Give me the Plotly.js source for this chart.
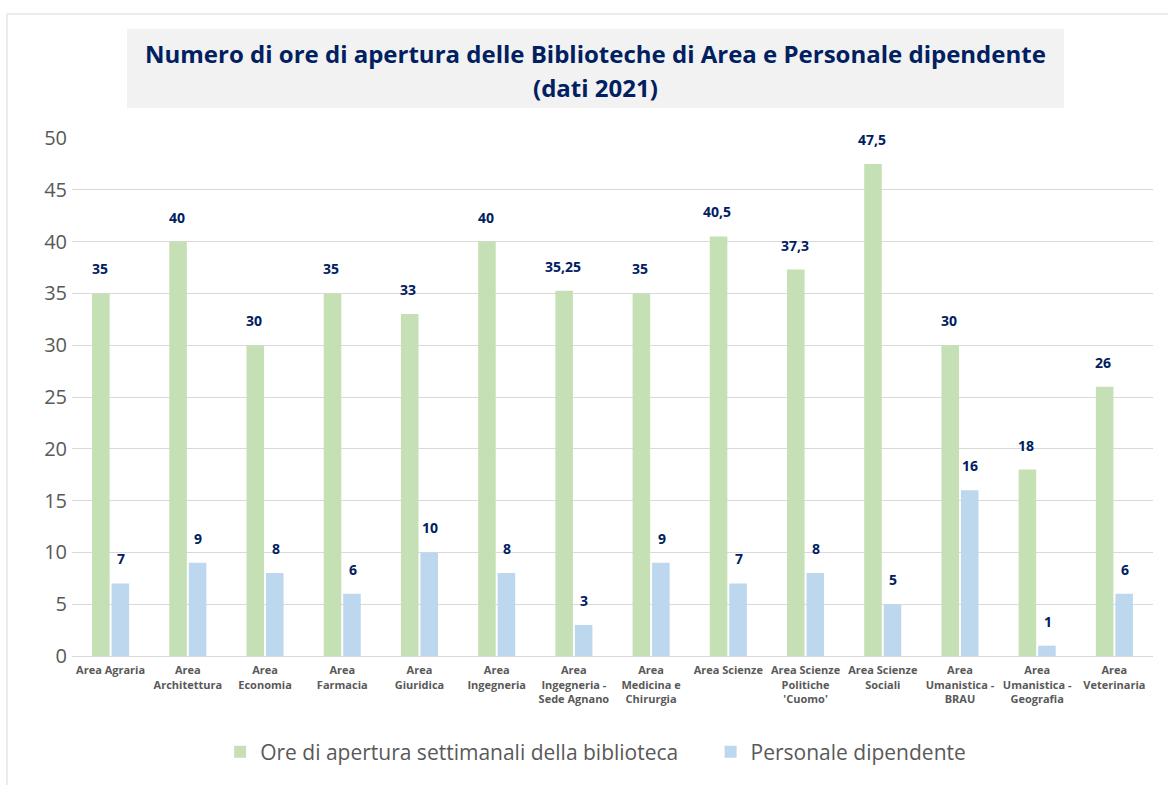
<!DOCTYPE html>
<html>
<head>
<meta charset="utf-8">
<script src="https://cdn.plot.ly/plotly-3.0.1.min.js"></script>
<style>html,body{margin:0;padding:0;background:#fff;}#chart{width:1168px;height:785px;}</style>
</head>
<body>
<div id="chart"></div>
<script>
const categories = ["Area Agraria","Area Architettura","Area Economia","Area Farmacia","Area Giuridica","Area Ingegneria","Area Ingegneria - Sede Agnano","Area Medicina e Chirurgia","Area Scienze","Area Scienze Politiche 'Cuomo'","Area Scienze Sociali","Area Umanistica - BRAU","Area Umanistica - Geografia","Area Veterinaria"];
const tickLabels = ["Area Agraria","Area<br>Architettura","Area<br>Economia","Area<br>Farmacia","Area<br>Giuridica","Area<br>Ingegneria","Area<br>Ingegneria -<br>Sede Agnano","Area<br>Medicina e<br>Chirurgia","Area Scienze","Area Scienze<br>Politiche<br>'Cuomo'","Area Scienze<br>Sociali","Area<br>Umanistica -<br>BRAU","Area<br>Umanistica -<br>Geografia","Area<br>Veterinaria"];
const oreApertura = [35, 40, 30, 35, 33, 40, 35.25, 35, 40.5, 37.3, 47.5, 30, 18, 26];
const personale = [7, 9, 8, 6, 10, 8, 3, 9, 7, 8, 5, 16, 1, 6];
const seriesNames = ["Ore di apertura settimanali della biblioteca", "Personale dipendente"];
const titleLines = ["Numero di ore di apertura delle Biblioteche di Area e Personale dipendente", "(dati 2021)"];
const yTicks = [0, 5, 10, 15, 20, 25, 30, 35, 40, 45, 50];

const FONT = "'Open Sans', 'Noto Sans', sans-serif";
const NAVY = "#002060";
const GRAY = "#595959";
const fmt = v => String(v).replace('.', ',');

const traces = [
  {type: 'bar', name: seriesNames[0], x: categories, y: oreApertura, marker: {color: '#C5E0B4'}, hoverinfo: 'y', legend: 'legend'},
  {type: 'bar', name: seriesNames[1], x: categories, y: personale, marker: {color: '#BDD7EE'}, hoverinfo: 'y', legend: 'legend2'}
];

const annotations = [];
oreApertura.forEach((v, i) => annotations.push({x: categories[i], y: v, xref: 'x', yref: 'y', text: fmt(v), showarrow: false, xshift: -11, yshift: 13, yanchor: 'bottom', font: {family: FONT, size: 14, color: NAVY, weight: 'bold'}}));
personale.forEach((v, i) => annotations.push({x: categories[i], y: v, xref: 'x', yref: 'y', text: fmt(v), showarrow: false, xshift: 10.5, yshift: 13, yanchor: 'bottom', font: {family: FONT, size: 14, color: NAVY, weight: 'bold'}}));
annotations.push({xref: 'paper', yref: 'paper', x: (595 - 72) / 1080, y: (656 - 53) / 518, yanchor: 'middle', xanchor: 'center', showarrow: false, text: '<b>' + titleLines[0] + '</b>', font: {family: FONT, size: 24, color: NAVY}});
annotations.push({xref: 'paper', yref: 'paper', x: (595 - 72) / 1080, y: (656 - 88) / 518, yanchor: 'middle', xanchor: 'center', showarrow: false, text: '<b>' + titleLines[1] + '</b>', font: {family: FONT, size: 24, color: NAVY}});

const legendBase = {orientation: 'h', xanchor: 'left', y: (656 - 752) / 518, yanchor: 'middle', font: {family: FONT, size: 21, color: GRAY}, itemwidth: 30, bgcolor: 'rgba(0,0,0,0)'};

const layout = {
  width: 1168, height: 785,
  margin: {l: 72, r: 15, t: 138, b: 129, pad: 0},
  paper_bgcolor: '#fff', plot_bgcolor: '#fff',
  barmode: 'group', bargap: 0.495, bargroupgap: 0.1,
  font: {family: FONT, color: GRAY},
  showlegend: true,
  legend: Object.assign({}, legendBase, {x: (220 - 72) / 1080}),
  legend2: Object.assign({}, legendBase, {x: (710 - 72) / 1080}),
  xaxis: {type: 'category', tickmode: 'array', tickvals: categories, ticktext: tickLabels, tickfont: {family: FONT, size: 11, color: GRAY, weight: 'bold'}, showgrid: false, showline: true, linecolor: '#D9D9D9', ticks: '', ticklabelstandoff: 4, fixedrange: true},
  yaxis: {range: [0, 50], tickvals: yTicks, tickfont: {family: FONT, size: 20, color: GRAY}, showgrid: true, gridcolor: '#D9D9D9', zeroline: false, showline: false, ticks: '', ticklabelstandoff: 4, fixedrange: true},
  shapes: [
    {type: 'rect', xref: 'paper', yref: 'paper', x0: (7 - 72) / 1080, x1: (1180 - 72) / 1080, y0: (656 - 800) / 518, y1: (656 - 14) / 518, line: {color: '#D9D9D9', width: 1}, fillcolor: 'rgba(0,0,0,0)', layer: 'below'},
    {type: 'rect', xref: 'paper', yref: 'paper', x0: (127 - 72) / 1080, x1: (1063 - 72) / 1080, y0: (656 - 108) / 518, y1: (656 - 29) / 518, line: {width: 0}, fillcolor: '#F2F2F2', layer: 'below'}
  ],
  annotations: annotations
};

Plotly.newPlot('chart', traces, layout, {displayModeBar: false, staticPlot: true});
</script>
</body>
</html>
